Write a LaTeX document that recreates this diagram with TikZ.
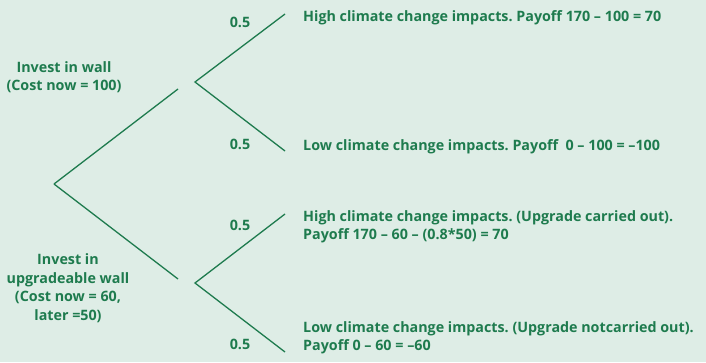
\documentclass[tikz,border=0pt]{standalone}
\usepackage{fontspec}
\setmainfont{Open Sans}
\frenchspacing
\usetikzlibrary{positioning,calc}
\definecolor{treegreen}{HTML}{1E7B4E}
\definecolor{treebg}{HTML}{DEEDE6}

\begin{document}
\begin{tikzpicture}[x=1pt,y=-1pt,
  branch/.style={draw=treegreen,line width=1.3pt},
  txt/.style={text=treegreen,font=\bfseries\fontsize{14.3}{18.5}\selectfont,inner sep=0pt},
  prob/.style={txt,anchor=center},
  outcome/.style={txt,anchor=west,align=left},
  choice/.style={txt,anchor=center,align=center}]

% Background
\fill[treebg] (0,0) rectangle (706,362);
\useasboundingbox (0,0) rectangle (706,362);

% Tree points
\coordinate (root) at (54,184);
\coordinate (wallin) at (178,89);
\coordinate (wall) at (195,82);
\coordinate (wallhigh) at (285,14);
\coordinate (walllow) at (285,151);
\coordinate (upgin) at (178,279);
\coordinate (upg) at (195,283);
\coordinate (upghigh) at (285,214);
\coordinate (upglow) at (285,352);

% Branches
\draw[branch] (root)--(wallin);
\draw[branch] (root)--(upgin);
\draw[branch] (wallhigh)--(wall)--(walllow);
\draw[branch] (upghigh)--(upg)--(upglow);

% Choices
\node[choice] (wallname) at (64,77) {Invest in wall\\(Cost now = 100)};
\node[choice] (upgname) at (68,288) {Invest in\\upgradeable wall\\(Cost now = 60,\\later =50)};

% Probabilities
\node[prob] (p1) at (240,22) {0.5};
\node[prob] (p2) at (240,144) {0.5};
\node[prob] (p3) at (240,225) {0.5};
\node[prob] (p4) at (240,344) {0.5};

% Outcomes
\node[outcome] (o1) at (303,18) {High climate change impacts. Payoff 170 – 100 = 70};
\node[outcome] (o2) at (303,147) {Low climate change impacts. Payoff\ \ 0 – 100 = –100};
\node[outcome] (o3) at (303,227) {High climate change impacts. (Upgrade carried out).\\Payoff 170 – 60 – (0.8*50) = 70};
\node[outcome] (o4) at (303,338) {Low climate change impacts. (Upgrade notcarried out).\\Payoff 0 – 60 = –60};

\end{tikzpicture}
\end{document}
